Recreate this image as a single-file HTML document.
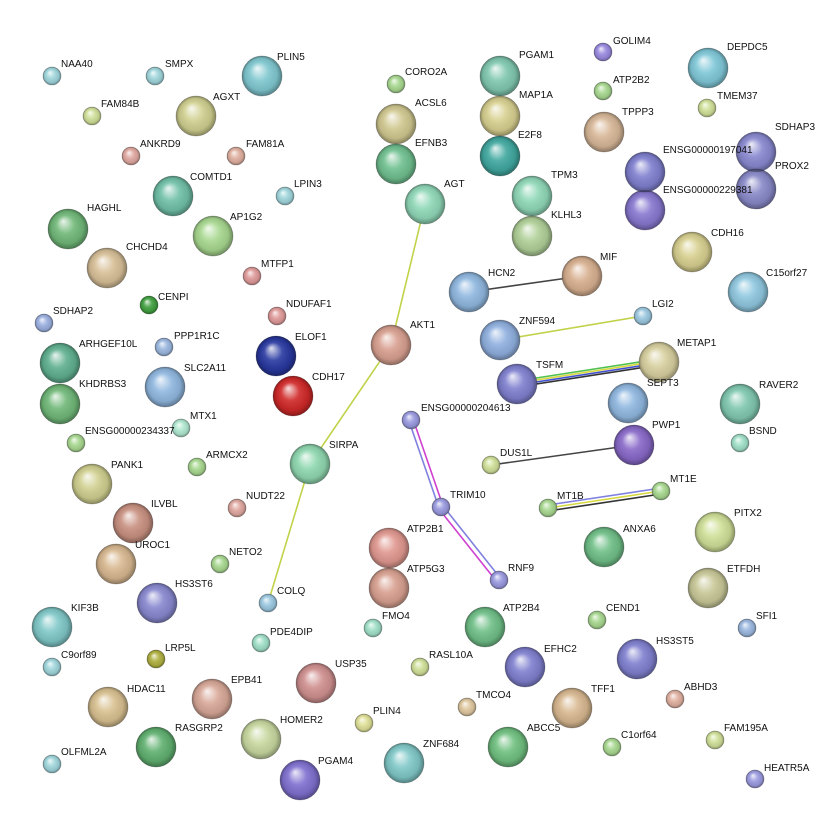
<!DOCTYPE html>
<html><head><meta charset="utf-8"><style>
html,body{margin:0;padding:0;background:#fff}
svg text{font-family:"Liberation Sans",sans-serif;font-size:10px;fill:#111}
</style></head><body>
<svg width="826" height="825" viewBox="0 0 826 825" xmlns="http://www.w3.org/2000/svg">
<defs>
<radialGradient id="sh" cx="0.5" cy="0.5" r="0.5" fx="0.38" fy="0.3">
<stop offset="0" stop-color="#fff" stop-opacity="0.85"/>
<stop offset="0.45" stop-color="#fff" stop-opacity="0.1"/>
<stop offset="0.8" stop-color="#000" stop-opacity="0.08"/>
<stop offset="1" stop-color="#000" stop-opacity="0.35"/>
</radialGradient>
</defs>
<g stroke-width="1.6" fill="none">
<line x1="425" y1="204" x2="391" y2="345" stroke="#c2d24a"/>
<line x1="391" y1="345" x2="310" y2="464" stroke="#c2d24a"/>
<line x1="310" y1="464" x2="268" y2="603" stroke="#c2d24a"/>
<line x1="469" y1="292" x2="582" y2="276" stroke="#444"/>
<line x1="500" y1="340" x2="643" y2="316" stroke="#c2d24a"/>
<line x1="517" y1="381" x2="659" y2="359" stroke="#50c050"/>
<line x1="517" y1="383" x2="659" y2="361" stroke="#d8d840"/>
<line x1="517" y1="385" x2="659" y2="363" stroke="#4050d0"/>
<line x1="517" y1="387" x2="659" y2="365" stroke="#333"/>
<line x1="491" y1="465" x2="634" y2="445" stroke="#444"/>
<line x1="409" y1="421" x2="439" y2="508" stroke="#8080e0"/>
<line x1="413" y1="419" x2="443" y2="506" stroke="#d040d0"/>
<line x1="439" y1="509" x2="497" y2="582" stroke="#d040d0"/>
<line x1="443" y1="506" x2="501" y2="579" stroke="#8080e0"/>
<line x1="548" y1="505" x2="661" y2="488" stroke="#8080e0"/>
<line x1="548" y1="508" x2="661" y2="491" stroke="#d8d840"/>
<line x1="548" y1="511" x2="661" y2="494" stroke="#333"/>
</g>
<g stroke="rgba(0,0,0,0.25)" stroke-width="0.8">
<circle cx="52" cy="76" r="9" fill="#9fd6dc"/><circle cx="155" cy="76" r="9" fill="#9fd6dc"/>
<circle cx="92" cy="116" r="9" fill="#d0e098"/><circle cx="131" cy="156" r="9" fill="#e0a8a0"/>
<circle cx="236" cy="156" r="9" fill="#e0b0a0"/><circle cx="285" cy="196" r="9" fill="#9fd6dc"/>
<circle cx="252" cy="276" r="9" fill="#e09a9a"/><circle cx="277" cy="316" r="9" fill="#e09a9a"/>
<circle cx="149" cy="305" r="9" fill="#40a040"/><circle cx="44" cy="323" r="9" fill="#9bb0e0"/>
<circle cx="164" cy="347" r="9" fill="#9bb8e0"/><circle cx="181" cy="428" r="9" fill="#b0e8d0"/>
<circle cx="76" cy="443" r="9" fill="#a8d890"/><circle cx="197" cy="467" r="9" fill="#a8d890"/>
<circle cx="237" cy="508" r="9" fill="#e0a8a0"/><circle cx="220" cy="564" r="9" fill="#a8d890"/>
<circle cx="268" cy="603" r="9" fill="#9bc8e0"/><circle cx="261" cy="643" r="9" fill="#a0e0c8"/>
<circle cx="52" cy="667" r="9" fill="#9fd6dc"/><circle cx="156" cy="659" r="9" fill="#b0b040"/>
<circle cx="52" cy="764" r="9" fill="#9fd6dc"/><circle cx="396" cy="84" r="9" fill="#a8d890"/>
<circle cx="373" cy="628" r="9" fill="#a0e0c8"/><circle cx="420" cy="667" r="9" fill="#d0e098"/>
<circle cx="364" cy="723" r="9" fill="#e0e098"/><circle cx="467" cy="707" r="9" fill="#e0c8a0"/>
<circle cx="411" cy="420" r="9" fill="#9a9ae0"/><circle cx="441" cy="507" r="9" fill="#9a9ae0"/>
<circle cx="499" cy="580" r="9" fill="#9a9ae0"/><circle cx="491" cy="465" r="9" fill="#d0e098"/>
<circle cx="643" cy="316" r="9" fill="#9bc8e0"/><circle cx="603" cy="52" r="9" fill="#9a8ae0"/>
<circle cx="603" cy="91" r="9" fill="#a8d890"/><circle cx="707" cy="108" r="9" fill="#d0e098"/>
<circle cx="740" cy="443" r="9" fill="#a0e0c8"/><circle cx="548" cy="508" r="9" fill="#a8d890"/>
<circle cx="661" cy="491" r="9" fill="#a8d890"/><circle cx="597" cy="620" r="9" fill="#a8d890"/>
<circle cx="747" cy="628" r="9" fill="#9bb8e0"/><circle cx="675" cy="699" r="9" fill="#e0b0a0"/>
<circle cx="612" cy="747" r="9" fill="#a8d890"/><circle cx="715" cy="740" r="9" fill="#d0e098"/>
<circle cx="755" cy="779" r="9" fill="#9a9ae0"/>
<circle cx="262" cy="76" r="20" fill="#80c8d0"/><circle cx="196" cy="116" r="20" fill="#d0d090"/>
<circle cx="173" cy="196" r="20" fill="#70c0a8"/><circle cx="68" cy="229" r="20" fill="#70b878"/>
<circle cx="213" cy="236" r="20" fill="#a8d890"/><circle cx="107" cy="268" r="20" fill="#d8c098"/>
<circle cx="60" cy="363" r="20" fill="#60b090"/><circle cx="60" cy="404" r="20" fill="#70b878"/>
<circle cx="165" cy="387" r="20" fill="#90b8e0"/><circle cx="276" cy="356" r="20" fill="#2838a0"/>
<circle cx="293" cy="396" r="20" fill="#d02828"/><circle cx="391" cy="345" r="20" fill="#d8a090"/>
<circle cx="310" cy="464" r="20" fill="#90d8b0"/><circle cx="92" cy="484" r="20" fill="#d0d090"/>
<circle cx="133" cy="523" r="20" fill="#c89080"/><circle cx="116" cy="564" r="20" fill="#d8b890"/>
<circle cx="157" cy="603" r="20" fill="#8888d0"/><circle cx="52" cy="627" r="20" fill="#80c8c8"/>
<circle cx="108" cy="707" r="20" fill="#d8c090"/><circle cx="212" cy="699" r="20" fill="#d8a898"/>
<circle cx="156" cy="747" r="20" fill="#60b070"/><circle cx="261" cy="739" r="20" fill="#c8d8a0"/>
<circle cx="316" cy="683" r="20" fill="#d09090"/><circle cx="300" cy="780" r="20" fill="#8070d0"/>
<circle cx="404" cy="763" r="20" fill="#80c8c8"/><circle cx="389" cy="548" r="20" fill="#e09890"/>
<circle cx="389" cy="588" r="20" fill="#d8a090"/><circle cx="485" cy="627" r="20" fill="#70c088"/>
<circle cx="525" cy="667" r="20" fill="#8080d0"/><circle cx="508" cy="747" r="20" fill="#70c080"/>
<circle cx="572" cy="708" r="20" fill="#d8b890"/><circle cx="637" cy="659" r="20" fill="#8080d0"/>
<circle cx="604" cy="547" r="20" fill="#70c088"/><circle cx="715" cy="532" r="20" fill="#d0e098"/>
<circle cx="708" cy="588" r="20" fill="#c8c898"/><circle cx="740" cy="404" r="20" fill="#80c8b0"/>
<circle cx="634" cy="445" r="20" fill="#8868c8"/><circle cx="628" cy="403" r="20" fill="#90b8e0"/>
<circle cx="659" cy="362" r="20" fill="#d8d0a0"/><circle cx="517" cy="384" r="20" fill="#8080d0"/>
<circle cx="500" cy="340" r="20" fill="#90b0e0"/><circle cx="469" cy="292" r="20" fill="#90b8e0"/>
<circle cx="582" cy="276" r="20" fill="#d8b090"/><circle cx="748" cy="292" r="20" fill="#90c8e0"/>
<circle cx="692" cy="252" r="20" fill="#d8d090"/><circle cx="645" cy="210" r="20" fill="#8878d0"/>
<circle cx="645" cy="172" r="20" fill="#8080d0"/><circle cx="756" cy="152" r="20" fill="#8888d0"/>
<circle cx="756" cy="189" r="20" fill="#8888c8"/><circle cx="708" cy="68" r="20" fill="#80c8d8"/>
<circle cx="604" cy="132" r="20" fill="#d8b898"/><circle cx="500" cy="76" r="20" fill="#80c8b0"/>
<circle cx="500" cy="116" r="20" fill="#d8d090"/><circle cx="500" cy="156" r="20" fill="#40a8a0"/>
<circle cx="396" cy="124" r="20" fill="#d0c890"/><circle cx="396" cy="164" r="20" fill="#70c090"/>
<circle cx="425" cy="204" r="20" fill="#90d8b8"/><circle cx="532" cy="196" r="20" fill="#90d8b8"/>
<circle cx="532" cy="236" r="20" fill="#b0d098"/>
</g>
<g fill="url(#sh)">
<circle cx="52" cy="76" r="9"/><circle cx="155" cy="76" r="9"/><circle cx="92" cy="116" r="9"/><circle cx="131" cy="156" r="9"/><circle cx="236" cy="156" r="9"/><circle cx="285" cy="196" r="9"/><circle cx="252" cy="276" r="9"/><circle cx="277" cy="316" r="9"/><circle cx="149" cy="305" r="9"/><circle cx="44" cy="323" r="9"/><circle cx="164" cy="347" r="9"/><circle cx="181" cy="428" r="9"/><circle cx="76" cy="443" r="9"/><circle cx="197" cy="467" r="9"/><circle cx="237" cy="508" r="9"/><circle cx="220" cy="564" r="9"/><circle cx="268" cy="603" r="9"/><circle cx="261" cy="643" r="9"/><circle cx="52" cy="667" r="9"/><circle cx="156" cy="659" r="9"/><circle cx="52" cy="764" r="9"/><circle cx="396" cy="84" r="9"/><circle cx="373" cy="628" r="9"/><circle cx="420" cy="667" r="9"/><circle cx="364" cy="723" r="9"/><circle cx="467" cy="707" r="9"/><circle cx="411" cy="420" r="9"/><circle cx="441" cy="507" r="9"/><circle cx="499" cy="580" r="9"/><circle cx="491" cy="465" r="9"/><circle cx="643" cy="316" r="9"/><circle cx="603" cy="52" r="9"/><circle cx="603" cy="91" r="9"/><circle cx="707" cy="108" r="9"/><circle cx="740" cy="443" r="9"/><circle cx="548" cy="508" r="9"/><circle cx="661" cy="491" r="9"/><circle cx="597" cy="620" r="9"/><circle cx="747" cy="628" r="9"/><circle cx="675" cy="699" r="9"/><circle cx="612" cy="747" r="9"/><circle cx="715" cy="740" r="9"/><circle cx="755" cy="779" r="9"/>
<circle cx="262" cy="76" r="20"/><circle cx="196" cy="116" r="20"/><circle cx="173" cy="196" r="20"/><circle cx="68" cy="229" r="20"/><circle cx="213" cy="236" r="20"/><circle cx="107" cy="268" r="20"/><circle cx="60" cy="363" r="20"/><circle cx="60" cy="404" r="20"/><circle cx="165" cy="387" r="20"/><circle cx="276" cy="356" r="20"/><circle cx="293" cy="396" r="20"/><circle cx="391" cy="345" r="20"/><circle cx="310" cy="464" r="20"/><circle cx="92" cy="484" r="20"/><circle cx="133" cy="523" r="20"/><circle cx="116" cy="564" r="20"/><circle cx="157" cy="603" r="20"/><circle cx="52" cy="627" r="20"/><circle cx="108" cy="707" r="20"/><circle cx="212" cy="699" r="20"/><circle cx="156" cy="747" r="20"/><circle cx="261" cy="739" r="20"/><circle cx="316" cy="683" r="20"/><circle cx="300" cy="780" r="20"/><circle cx="404" cy="763" r="20"/><circle cx="389" cy="548" r="20"/><circle cx="389" cy="588" r="20"/><circle cx="485" cy="627" r="20"/><circle cx="525" cy="667" r="20"/><circle cx="508" cy="747" r="20"/><circle cx="572" cy="708" r="20"/><circle cx="637" cy="659" r="20"/><circle cx="604" cy="547" r="20"/><circle cx="715" cy="532" r="20"/><circle cx="708" cy="588" r="20"/><circle cx="740" cy="404" r="20"/><circle cx="634" cy="445" r="20"/><circle cx="628" cy="403" r="20"/><circle cx="659" cy="362" r="20"/><circle cx="517" cy="384" r="20"/><circle cx="500" cy="340" r="20"/><circle cx="469" cy="292" r="20"/><circle cx="582" cy="276" r="20"/><circle cx="748" cy="292" r="20"/><circle cx="692" cy="252" r="20"/><circle cx="645" cy="210" r="20"/><circle cx="645" cy="172" r="20"/><circle cx="756" cy="152" r="20"/><circle cx="756" cy="189" r="20"/><circle cx="708" cy="68" r="20"/><circle cx="604" cy="132" r="20"/><circle cx="500" cy="76" r="20"/><circle cx="500" cy="116" r="20"/><circle cx="500" cy="156" r="20"/><circle cx="396" cy="124" r="20"/><circle cx="396" cy="164" r="20"/><circle cx="425" cy="204" r="20"/><circle cx="532" cy="196" r="20"/><circle cx="532" cy="236" r="20"/>
</g>
<g>
<text x="61" y="67">NAA40</text><text x="165" y="67">SMPX</text><text x="101" y="107">FAM84B</text>
<text x="140" y="147">ANKRD9</text><text x="246" y="147">FAM81A</text><text x="294" y="187">LPIN3</text>
<text x="261" y="267">MTFP1</text><text x="286" y="307">NDUFAF1</text><text x="158" y="300">CENPI</text>
<text x="53" y="314">SDHAP2</text><text x="174" y="339">PPP1R1C</text><text x="190" y="419">MTX1</text>
<text x="85" y="434">ENSG00000234337</text><text x="206" y="458">ARMCX2</text><text x="246" y="499">NUDT22</text>
<text x="229" y="555">NETO2</text><text x="277" y="594">COLQ</text><text x="270" y="635">PDE4DIP</text>
<text x="61" y="658">C9orf89</text><text x="165" y="651">LRP5L</text><text x="61" y="755">OLFML2A</text>
<text x="405" y="75">CORO2A</text><text x="382" y="619">FMO4</text><text x="429" y="658">RASL10A</text>
<text x="373" y="714">PLIN4</text><text x="476" y="698">TMCO4</text><text x="421" y="411">ENSG00000204613</text>
<text x="450" y="498">TRIM10</text><text x="508" y="571">RNF9</text><text x="500" y="456">DUS1L</text>
<text x="652" y="307">LGI2</text><text x="613" y="44">GOLIM4</text><text x="613" y="83">ATP2B2</text>
<text x="717" y="99">TMEM37</text><text x="749" y="434">BSND</text><text x="557" y="499">MT1B</text>
<text x="670" y="482">MT1E</text><text x="606" y="611">CEND1</text><text x="756" y="619">SFI1</text>
<text x="684" y="690">ABHD3</text><text x="621" y="738">C1orf64</text><text x="724" y="731">FAM195A</text>
<text x="764" y="771">HEATR5A</text>
<text x="277" y="60">PLIN5</text><text x="213" y="100">AGXT</text><text x="190" y="180">COMTD1</text>
<text x="87" y="211">HAGHL</text><text x="230" y="220">AP1G2</text><text x="126" y="250">CHCHD4</text>
<text x="79" y="347">ARHGEF10L</text><text x="79" y="387">KHDRBS3</text><text x="184" y="371">SLC2A11</text>
<text x="295" y="340">ELOF1</text><text x="312" y="380">CDH17</text><text x="410" y="328">AKT1</text>
<text x="329" y="448">SIRPA</text><text x="111" y="468">PANK1</text><text x="151" y="507">ILVBL</text>
<text x="135" y="548">UROC1</text><text x="175" y="587">HS3ST6</text><text x="71" y="611">KIF3B</text>
<text x="127" y="692">HDAC11</text><text x="231" y="683">EPB41</text><text x="175" y="731">RASGRP2</text>
<text x="280" y="723">HOMER2</text><text x="335" y="667">USP35</text><text x="318" y="764">PGAM4</text>
<text x="423" y="747">ZNF684</text><text x="407" y="532">ATP2B1</text><text x="407" y="572">ATP5G3</text>
<text x="503" y="611">ATP2B4</text><text x="544" y="652">EFHC2</text><text x="527" y="731">ABCC5</text>
<text x="591" y="692">TFF1</text><text x="656" y="644">HS3ST5</text><text x="623" y="532">ANXA6</text>
<text x="734" y="516">PITX2</text><text x="727" y="572">ETFDH</text><text x="759" y="388">RAVER2</text>
<text x="652" y="428">PWP1</text><text x="647" y="386">SEPT3</text><text x="677" y="346">METAP1</text>
<text x="536" y="368">TSFM</text><text x="519" y="324">ZNF594</text><text x="488" y="276">HCN2</text>
<text x="600" y="260">MIF</text><text x="766" y="276">C15orf27</text><text x="711" y="236">CDH16</text>
<text x="663" y="193">ENSG00000229381</text><text x="663" y="153">ENSG00000197041</text>
<text x="775" y="130">SDHAP3</text><text x="775" y="169">PROX2</text><text x="727" y="50">DEPDC5</text>
<text x="622" y="115">TPPP3</text><text x="519" y="58">PGAM1</text><text x="519" y="98">MAP1A</text>
<text x="518" y="138">E2F8</text><text x="415" y="106">ACSL6</text><text x="415" y="146">EFNB3</text>
<text x="444" y="187">AGT</text><text x="551" y="178">TPM3</text><text x="551" y="218">KLHL3</text>
</g>
</svg>
</body></html>
